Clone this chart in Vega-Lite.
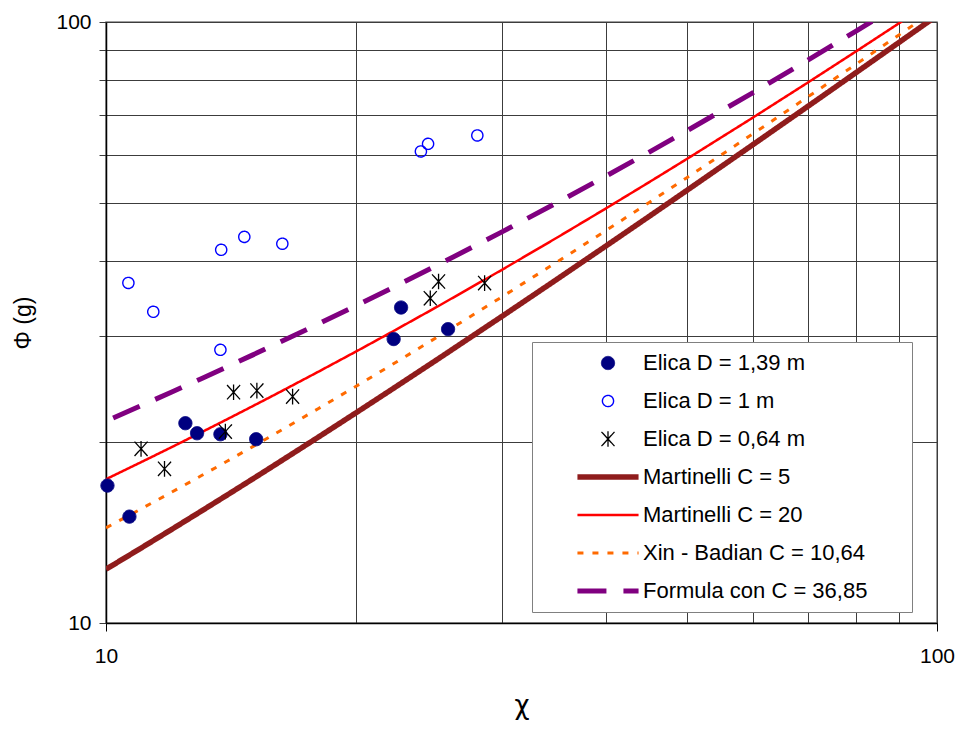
{
  "$schema": "https://vega.github.io/schema/vega-lite/v6.json",
  "width": 831,
  "height": 601,
  "autosize": {"type": "none"},
  "padding": {"left": 106, "top": 22, "right": 26, "bottom": 107},
  "background": "white",
  "datasets": {
    "pts": [
      {"series": "Elica D = 1,39 m", "x": 10.04, "y": 16.93},
      {"series": "Elica D = 1,39 m", "x": 10.67, "y": 15.03},
      {"series": "Elica D = 1,39 m", "x": 12.46, "y": 21.5},
      {"series": "Elica D = 1,39 m", "x": 12.87, "y": 20.69},
      {"series": "Elica D = 1,39 m", "x": 13.73, "y": 20.61},
      {"series": "Elica D = 1,39 m", "x": 15.16, "y": 20.22},
      {"series": "Elica D = 1,39 m", "x": 22.19, "y": 29.68},
      {"series": "Elica D = 1,39 m", "x": 22.65, "y": 33.49},
      {"series": "Elica D = 1,39 m", "x": 25.8, "y": 30.83},
      {"series": "Elica D = 1 m", "x": 10.64, "y": 36.8},
      {"series": "Elica D = 1 m", "x": 11.4, "y": 32.95},
      {"series": "Elica D = 1 m", "x": 13.76, "y": 41.78},
      {"series": "Elica D = 1 m", "x": 14.67, "y": 43.9},
      {"series": "Elica D = 1 m", "x": 16.3, "y": 42.76},
      {"series": "Elica D = 1 m", "x": 13.73, "y": 28.48},
      {"series": "Elica D = 1 m", "x": 23.93, "y": 60.9},
      {"series": "Elica D = 1 m", "x": 24.41, "y": 62.7},
      {"series": "Elica D = 1 m", "x": 27.98, "y": 64.75},
      {"series": "Elica D = 0,64 m", "x": 11.02, "y": 19.49},
      {"series": "Elica D = 0,64 m", "x": 11.76, "y": 18.05},
      {"series": "Elica D = 0,64 m", "x": 13.92, "y": 20.82},
      {"series": "Elica D = 0,64 m", "x": 14.24, "y": 24.21},
      {"series": "Elica D = 0,64 m", "x": 15.19, "y": 24.36},
      {"series": "Elica D = 0,64 m", "x": 16.77, "y": 23.81},
      {"series": "Elica D = 0,64 m", "x": 24.56, "y": 34.7},
      {"series": "Elica D = 0,64 m", "x": 25.13, "y": 37.0},
      {"series": "Elica D = 0,64 m", "x": 28.55, "y": 36.78}
    ],
    "lines": [
      {"series": "Martinelli C = 5", "x": 10, "y": 12.288},
      {"series": "Martinelli C = 5", "x": 11, "y": 13.304},
      {"series": "Martinelli C = 5", "x": 12, "y": 14.318},
      {"series": "Martinelli C = 5", "x": 13, "y": 15.33},
      {"series": "Martinelli C = 5", "x": 14, "y": 16.34},
      {"series": "Martinelli C = 5", "x": 15, "y": 17.349},
      {"series": "Martinelli C = 5", "x": 16, "y": 18.358},
      {"series": "Martinelli C = 5", "x": 18, "y": 20.372},
      {"series": "Martinelli C = 5", "x": 20, "y": 22.383},
      {"series": "Martinelli C = 5", "x": 22, "y": 24.393},
      {"series": "Martinelli C = 5", "x": 25, "y": 27.404},
      {"series": "Martinelli C = 5", "x": 30, "y": 32.419},
      {"series": "Martinelli C = 5", "x": 35, "y": 37.43},
      {"series": "Martinelli C = 5", "x": 40, "y": 42.438},
      {"series": "Martinelli C = 5", "x": 45, "y": 47.445},
      {"series": "Martinelli C = 5", "x": 50, "y": 52.45},
      {"series": "Martinelli C = 5", "x": 60, "y": 62.458},
      {"series": "Martinelli C = 5", "x": 70, "y": 72.464},
      {"series": "Martinelli C = 5", "x": 80, "y": 82.468},
      {"series": "Martinelli C = 5", "x": 90, "y": 92.472},
      {"series": "Martinelli C = 5", "x": 100, "y": 102.474},
      {"series": "Martinelli C = 20", "x": 10, "y": 17.349},
      {"series": "Martinelli C = 20", "x": 11, "y": 18.493},
      {"series": "Martinelli C = 20", "x": 12, "y": 19.621},
      {"series": "Martinelli C = 20", "x": 13, "y": 20.736},
      {"series": "Martinelli C = 20", "x": 14, "y": 21.84},
      {"series": "Martinelli C = 20", "x": 15, "y": 22.935},
      {"series": "Martinelli C = 20", "x": 16, "y": 24.021},
      {"series": "Martinelli C = 20", "x": 18, "y": 26.173},
      {"series": "Martinelli C = 20", "x": 20, "y": 28.302},
      {"series": "Martinelli C = 20", "x": 22, "y": 30.414},
      {"series": "Martinelli C = 20", "x": 25, "y": 33.556},
      {"series": "Martinelli C = 20", "x": 30, "y": 38.743},
      {"series": "Martinelli C = 20", "x": 35, "y": 43.886},
      {"series": "Martinelli C = 20", "x": 40, "y": 49.0},
      {"series": "Martinelli C = 20", "x": 45, "y": 54.092},
      {"series": "Martinelli C = 20", "x": 50, "y": 59.169},
      {"series": "Martinelli C = 20", "x": 60, "y": 69.289},
      {"series": "Martinelli C = 20", "x": 70, "y": 79.379},
      {"series": "Martinelli C = 20", "x": 80, "y": 89.448},
      {"series": "Martinelli C = 20", "x": 90, "y": 99.504},
      {"series": "Martinelli C = 20", "x": 100, "y": 109.55},
      {"series": "Xin - Badian C = 10,64", "x": 10, "y": 14.401},
      {"series": "Xin - Badian C = 10,64", "x": 11, "y": 15.461},
      {"series": "Xin - Badian C = 10,64", "x": 12, "y": 16.513},
      {"series": "Xin - Badian C = 10,64", "x": 13, "y": 17.559},
      {"series": "Xin - Badian C = 10,64", "x": 14, "y": 18.6},
      {"series": "Xin - Badian C = 10,64", "x": 15, "y": 19.637},
      {"series": "Xin - Badian C = 10,64", "x": 16, "y": 20.67},
      {"series": "Xin - Badian C = 10,64", "x": 18, "y": 22.727},
      {"series": "Xin - Badian C = 10,64", "x": 20, "y": 24.775},
      {"series": "Xin - Badian C = 10,64", "x": 22, "y": 26.816},
      {"series": "Xin - Badian C = 10,64", "x": 25, "y": 29.866},
      {"series": "Xin - Badian C = 10,64", "x": 30, "y": 34.931},
      {"series": "Xin - Badian C = 10,64", "x": 35, "y": 39.98},
      {"series": "Xin - Badian C = 10,64", "x": 40, "y": 45.018},
      {"series": "Xin - Badian C = 10,64", "x": 45, "y": 50.048},
      {"series": "Xin - Badian C = 10,64", "x": 50, "y": 55.073},
      {"series": "Xin - Badian C = 10,64", "x": 60, "y": 65.111},
      {"series": "Xin - Badian C = 10,64", "x": 70, "y": 75.139},
      {"series": "Xin - Badian C = 10,64", "x": 80, "y": 85.16},
      {"series": "Xin - Badian C = 10,64", "x": 90, "y": 95.177},
      {"series": "Xin - Badian C = 10,64", "x": 100, "y": 105.19},
      {"series": "Formula con C = 36,85", "x": 10.2, "y": 21.93},
      {"series": "Formula con C = 36,85", "x": 11, "y": 22.964},
      {"series": "Formula con C = 36,85", "x": 12, "y": 24.232},
      {"series": "Formula con C = 36,85", "x": 13, "y": 25.477},
      {"series": "Formula con C = 36,85", "x": 14, "y": 26.7},
      {"series": "Formula con C = 36,85", "x": 15, "y": 27.906},
      {"series": "Formula con C = 36,85", "x": 16, "y": 29.096},
      {"series": "Formula con C = 36,85", "x": 18, "y": 31.437},
      {"series": "Formula con C = 36,85", "x": 20, "y": 33.734},
      {"series": "Formula con C = 36,85", "x": 22, "y": 35.996},
      {"series": "Formula con C = 36,85", "x": 25, "y": 39.335},
      {"series": "Formula con C = 36,85", "x": 30, "y": 44.794},
      {"series": "Formula con C = 36,85", "x": 35, "y": 50.157},
      {"series": "Formula con C = 36,85", "x": 40, "y": 55.453},
      {"series": "Formula con C = 36,85", "x": 45, "y": 60.698},
      {"series": "Formula con C = 36,85", "x": 50, "y": 65.905},
      {"series": "Formula con C = 36,85", "x": 60, "y": 76.237},
      {"series": "Formula con C = 36,85", "x": 70, "y": 86.49},
      {"series": "Formula con C = 36,85", "x": 80, "y": 96.69},
      {"series": "Formula con C = 36,85", "x": 90, "y": 106.85},
      {"series": "Formula con C = 36,85", "x": 100, "y": 116.99}
    ]
  },
  "layer": [
    {
      "data": {"name": "lines"},
      "mark": {"type": "line", "clip": true, "strokeCap": "butt"},
      "encoding": {
        "x": {"field": "x", "type": "quantitative"},
        "y": {"field": "y", "type": "quantitative"},
        "stroke": {"field": "series", "type": "nominal"},
        "strokeDash": {"field": "series", "type": "nominal"},
        "strokeWidth": {"field": "series", "type": "nominal"}
      }
    },
    {
      "data": {"name": "pts"},
      "mark": {"type": "point", "filled": true, "opacity": 1},
      "encoding": {
        "x": {"field": "x", "type": "quantitative"},
        "y": {"field": "y", "type": "quantitative"},
        "stroke": {"field": "series", "type": "nominal"},
        "strokeDash": {"field": "series", "type": "nominal"},
        "strokeWidth": {"field": "series", "type": "nominal"},
        "fill": {
          "field": "series", "type": "nominal",
          "legend": {"title": "\u00a0"},
          "scale": {
            "domain": ["Elica D = 1,39 m", "Elica D = 1 m", "Elica D = 0,64 m", "Martinelli C = 5", "Martinelli C = 20", "Xin - Badian C = 10,64", "Formula con C = 36,85"],
            "range": ["#000080", "transparent", "transparent", "transparent", "transparent", "transparent", "transparent"]
          }
        },
        "shape": {
          "field": "series", "type": "nominal",
          "legend": {"title": "\u00a0"},
          "scale": {
            "domain": ["Elica D = 1,39 m", "Elica D = 1 m", "Elica D = 0,64 m", "Martinelli C = 5", "Martinelli C = 20", "Xin - Badian C = 10,64", "Formula con C = 36,85"],
            "range": ["circle", "circle", "M-1,-1.1L1,1.1M-1,1.1L1,-1.1M0,-1.2L0,1.2", "M-5.3,0L5.3,0", "M-5.3,0L5.3,0", "M-5.3,0L5.3,0", "M-5.3,0L5.3,0"]
          }
        },
        "size": {
          "field": "series", "type": "nominal",
          "legend": {"title": "\u00a0"},
          "scale": {
            "type": "ordinal",
            "domain": ["Elica D = 1,39 m", "Elica D = 1 m", "Elica D = 0,64 m", "Martinelli C = 5", "Martinelli C = 20", "Xin - Badian C = 10,64", "Formula con C = 36,85"],
            "range": [175, 125, 170, 133, 133, 133, 133]
          }
        }
      }
    }
  ],
  "encoding": {
    "x": {
      "field": "x", "type": "quantitative",
      "scale": {"type": "log", "domain": [10, 100], "nice": false},
      "axis": {
        "title": "χ",
        "values": [10, 20, 30, 40, 50, 60, 70, 80, 90, 100],
        "labelExpr": "datum.value == 10 || datum.value == 100 ? format(datum.value, 'd') : ''",
        "labelFlush": false,
        "grid": true,
        "gridColor": "#3c3c3c",
        "gridOpacity": 1,
        "gridWidth": 1,
        "tickColor": {"condition": {"test": "datum.value == 10 || datum.value == 100", "value": "black"}, "value": "transparent"},
        "tickSize": 8,
        "labelPadding": 14,
        "labelFontSize": 21,
        "titleFont": "DejaVu Sans",
        "titleFontSize": 26,
        "titleFontWeight": "normal",
        "titlePadding": 26,
        "domainColor": "black",
        "domainWidth": 1.5
      }
    },
    "y": {
      "field": "y", "type": "quantitative",
      "scale": {"type": "log", "domain": [10, 100], "nice": false},
      "axis": {
        "title": "Φ (g)",
        "values": [10, 20, 30, 40, 50, 60, 70, 80, 90, 100],
        "labelExpr": "datum.value == 10 || datum.value == 100 ? format(datum.value, 'd') : ''",
        "labelFlush": false,
        "grid": true,
        "gridColor": "#3c3c3c",
        "gridOpacity": 1,
        "gridWidth": 1,
        "tickColor": "#3c3c3c",
        "tickSize": 7,
        "labelPadding": 8,
        "labelFontSize": 21,
        "titleFontSize": 23,
        "titleFontWeight": "normal",
        "titlePadding": 20,
        "domainColor": "black",
        "domainWidth": 1.5
      }
    },
    "stroke": {
      "field": "series", "type": "nominal",
      "legend": {"title": "\u00a0"},
      "scale": {
        "domain": ["Elica D = 1,39 m", "Elica D = 1 m", "Elica D = 0,64 m", "Martinelli C = 5", "Martinelli C = 20", "Xin - Badian C = 10,64", "Formula con C = 36,85"],
        "range": ["#000080", "#0000ff", "#000000", "#8f1c1c", "#ff0000", "#ff6a00", "#800080"]
      }
    },
    "strokeDash": {
      "field": "series", "type": "nominal",
      "legend": {"title": "\u00a0"},
      "scale": {
        "domain": ["Elica D = 1,39 m", "Elica D = 1 m", "Elica D = 0,64 m", "Martinelli C = 5", "Martinelli C = 20", "Xin - Badian C = 10,64", "Formula con C = 36,85"],
        "range": [[1, 0], [1, 0], [1, 0], [1, 0], [1, 0], [6, 9], [29, 17]]
      }
    },
    "strokeWidth": {
      "field": "series", "type": "nominal",
      "legend": {"title": "\u00a0"},
      "scale": {
        "type": "ordinal",
        "domain": ["Elica D = 1,39 m", "Elica D = 1 m", "Elica D = 0,64 m", "Martinelli C = 5", "Martinelli C = 20", "Xin - Badian C = 10,64", "Formula con C = 36,85"],
        "range": [1, 1.4, 1.3, 5.5, 2.5, 3, 5]
      }
    }
  },
  "config": {
    "font": "Liberation Sans",
    "view": {"stroke": "#808080", "strokeWidth": 1.5},
    "axis": {"labelColor": "black", "titleColor": "black", "labelFont": "Liberation Sans"},
    "legend": {
      "orient": "none",
      "legendX": 426,
      "legendY": 320,
      "titleOrient": "right",
      "titlePadding": 35,
      "titleFontSize": 22,
      "padding": 10,
      "symbolOffset": 55,
      "labelOffset": 24,
      "rowPadding": 16,
      "fillColor": "white",
      "strokeColor": "#808080",
      "labelFontSize": 22,
      "labelFont": "Liberation Sans",
      "labelColor": "black",
      "labelLimit": 400
    }
  }
}
